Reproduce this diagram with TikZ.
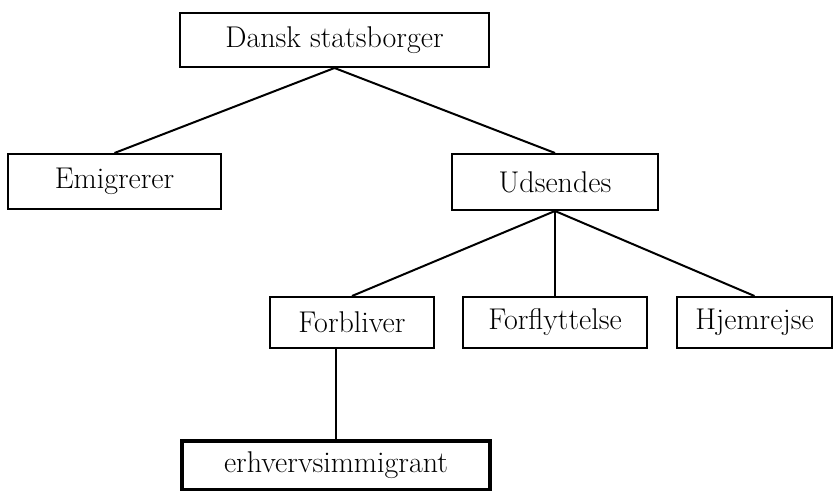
\documentclass[tikz,border=0pt]{standalone}
\usetikzlibrary{positioning}
\begin{document}
\begin{tikzpicture}[x=0.5pt,y=-0.5pt,every node/.style={font=\fontsize{15}{18}\selectfont},
    box/.style={draw,line width=1pt,inner sep=0pt},
    link/.style={line width=1pt}]
        \useasboundingbox (0,0) rectangle (835,491);
        \node[box,minimum width=154.5pt,minimum height=27pt] (dansk) at (334.5,40) {Dansk statsborger};
        \node[box,minimum width=106.5pt,minimum height=27.5pt] (emig) at (114.5,181.5) {Emigrerer};
        \node[box,minimum width=103pt,minimum height=28pt] (uds) at (555,182) {Udsendes};
        \node[box,minimum width=82pt,minimum height=25.5pt] (forbl) at (352,322.5) {Forbliver};
        \node[box,minimum width=92pt,minimum height=25.5pt] (forfl) at (555,322.5) {Forflyttelse};
        \node[box,minimum width=77.5pt,minimum height=25.5pt] (hjem) at (754.5,322.5) {Hjemrejse};
        \node[box,line width=2pt,minimum width=154pt,minimum height=24.5pt] (erhv) at (336,465.5) {erhvervsimmigrant};
        \draw[link] (dansk.south) -- (emig.north);
        \draw[link] (dansk.south) -- (uds.north);
        \draw[link] (uds.south) -- (forbl.north);
        \draw[link] (uds.south) -- (forfl.north);
        \draw[link] (uds.south) -- (hjem.north);
        \draw[link] (erhv.north |- forbl.south) -- (erhv.north);
      \end{tikzpicture}
\end{document}
